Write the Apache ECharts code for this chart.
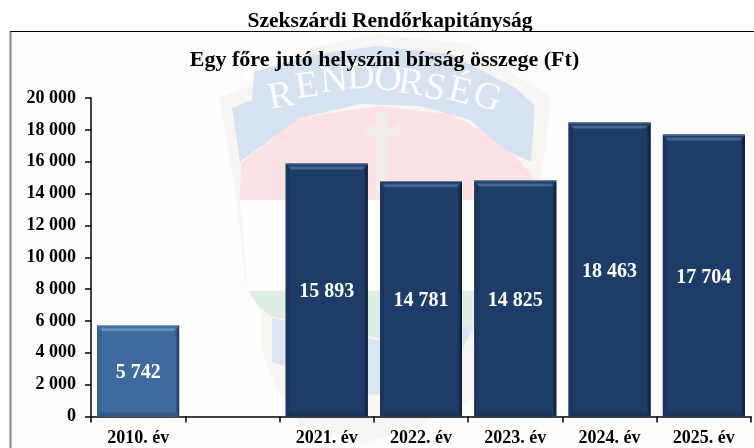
<!DOCTYPE html>
<html><head><meta charset="utf-8">
<style>html,body{margin:0;padding:0;background:#fff}#c{width:754px;height:448px}</style>
<script src="https://cdn.jsdelivr.net/npm/echarts@6/dist/echarts.min.js"></script>
</head><body><div id="c"></div>
<script>
const categories = ['2010. év', '', '2021. év', '2022. év', '2023. év', '2024. év', '2025. év'];
const values = [5742, null, 15893, 14781, 14825, 18463, 17704];
const yTicks = {min: 0, max: 20000, step: 2000};
const pageTitle = 'Szekszárdi Rendőrkapitányság';
const chartTitle = 'Egy főre jutó helyszíni bírság összege (Ft)';
const oldBar = {main:'#3f6a9e', top:'#7199c6', left:'#37608f', right:'#16304f', bottom:'#335886', edge:'#7f9cbd'};
const newBar = {main:'#1d3c68', top:'#4f719c', left:'#1a3660', right:'#0a1729', bottom:'#193456', edge:'#6f87a6'};
const FONT = '"Liberation Serif","Times New Roman",serif';
const BAR_W = 82;
const fmt = v => String(v).replace(/\B(?=(\d{3})+$)/g, ' ');

function poly(points, fill, z){ return {type:'polygon', silent:true, z:z||-10, shape:{points}, style:{fill}}; }
const letters = [['R',281,97,10],['E',307,87,8],['N',334,81,5],['D',361,78,3],['Ő',388,80,-3],['R',411,84,-8],['S',435,89,-11],['É',460,92,-14],['G',487,98,-17]];
const emblem = [
  {type:'rect', silent:true, z:-11, shape:{x:11,y:32,width:743,height:416}, style:{fill:'#fdfdfd'}},
  poly([[220,98],[252,84],[300,50],[377,34],[470,44],[520,78],[551,96],[546,140],[538,200],[520,290],[505,345],[480,395],[420,425],[360,445],[300,425],[275,385],[262,350],[262,315],[245,280],[238,210]], '#f8f6f2'),
  poly([[241,163],[300,118],[377,106],[450,114],[500,140],[533,176],[528,200],[240,200]], '#fce2e4'),
  poly([[240,200],[528,200],[512,290],[248,290]], '#fefefe'),
  poly([[248,291],[505,291],[492,322],[440,338],[377,338],[300,322],[270,316],[258,305]], '#e0ede4'),
  poly([[272,318],[377,340],[475,325],[462,350],[420,392],[340,396],[290,368],[272,362]], '#dce6f3'),
  poly([[232,108],[252,100],[254,72],[310,55],[377,46],[450,54],[516,88],[535,106],[531,162],[505,150],[470,120],[420,106],[360,104],[300,118],[240,162]], '#d7e2f0'),
  poly([[376,112],[388,112],[388,126],[400,126],[400,136],[388,136],[388,200],[376,200],[376,136],[364,136],[364,126],[376,126]], '#f2ede8')
].concat(letters.map(l => ({
  type:'text', silent:true, z:-9, x:l[1], y:l[2], rotation:l[3]*Math.PI/180,
  style:{text:l[0], fill:'#fbfcfe', font:'38px '+FONT, textAlign:'center', textVerticalAlign:'middle'}
})));
const frame = [
  {type:'line', silent:true, z:5, shape:{x1:10,y1:31.5,x2:754,y2:31.5}, style:{stroke:'#000',lineWidth:1}},
  {type:'line', silent:true, z:5, shape:{x1:10.5,y1:32,x2:10.5,y2:448}, style:{stroke:'#858585',lineWidth:2}}
];

const chart = echarts.init(document.getElementById('c'), null, {renderer:'canvas'});
chart.setOption({
  animation:false,
  backgroundColor:'#fff',
  textStyle:{fontFamily:FONT},
  title:[
    {text:pageTitle, left:385, top:5, textAlign:'center', textStyle:{fontFamily:FONT,fontWeight:'bold',fontSize:21.5,color:'#000'}},
    {text:chartTitle, left:379.5, top:44, textAlign:'center', textStyle:{fontFamily:FONT,fontWeight:'bold',fontSize:22,color:'#000'}}
  ],
  graphic:{elements:emblem.concat(frame)},
  grid:{left:91, right:3, top:98, bottom:31.5, containLabel:false},
  xAxis:{type:'category', data:categories,
    axisLine:{lineStyle:{color:'#000',width:1.5}},
    axisTick:{show:true, alignWithLabel:false, length:6, lineStyle:{color:'#000',width:1.5}},
    axisLabel:{interval:0, margin:13, color:'#000', fontWeight:'bold', fontSize:18, fontFamily:FONT}},
  yAxis:{type:'value', min:yTicks.min, max:yTicks.max, interval:yTicks.step,
    splitLine:{show:false},
    axisLine:{show:true, lineStyle:{color:'#000',width:1.5}},
    axisTick:{show:true, length:6, lineStyle:{color:'#000',width:1.5}},
    axisLabel:{margin:15, color:'#000', fontWeight:'bold', fontSize:18, fontFamily:FONT, formatter:fmt}},
  series:[
    {type:'bar', data:values.map((v,i)=>({value:v, itemStyle:{color:(i===0?oldBar:newBar).main}})),
     barWidth:BAR_W, z:2,
     label:{show:true, position:'inside', offset:[0,2], color:'#fff', fontWeight:'bold', fontSize:20, fontFamily:FONT,
            formatter:p=>fmt(p.value)}},
    {type:'custom', z:3, silent:true, data:values.map((v,i)=>[i,v]),
     encode:{x:0,y:1},
     renderItem:(params,api)=>{
       const v = api.value(1);
       if (v==null || isNaN(v)) return null;
       const idx = api.value(0);
       const pal = idx===0?oldBar:newBar;
       const top = api.coord([idx,v]), base = api.coord([idx,0]);
       const x0 = top[0]-BAR_W/2, x1 = top[0]+BAR_W/2, y0 = top[1], y1 = base[1];
       const b = 7, s = 4;
       const mk = (pts,fill)=>({type:'polygon', shape:{points:pts}, style:{fill}});
       return {type:'group', children:[
         mk([[x0,y0],[x0+s,y0+b],[x0+s,y1-4],[x0,y1]], pal.left),
         {type:'polygon', shape:{points:[[x1,y0],[x1-s,y0+b],[x1-s,y1-4],[x1,y1]]},
          style:{fill:new echarts.graphic.LinearGradient(1,0,0,0,[{offset:0,color:pal.right},{offset:1,color:pal.main}])}},
         mk([[x0,y1],[x0+s,y1-4],[x1-s,y1-4],[x1,y1]], pal.bottom),
         {type:'polygon', shape:{points:[[x0,y0],[x1,y0],[x1-s-2,y0+b],[x0+s+2,y0+b]]},
          style:{fill:new echarts.graphic.LinearGradient(0,0,0,1,[{offset:0,color:pal.main},{offset:0.3,color:pal.main},{offset:0.65,color:pal.top},{offset:1,color:pal.main}])}},
         {type:'line', shape:{x1:x0,y1:y0+0.5,x2:x1,y2:y0+0.5}, style:{stroke:pal.edge,lineWidth:1}}
       ]};
     }}
  ]
});
</script></body></html>
